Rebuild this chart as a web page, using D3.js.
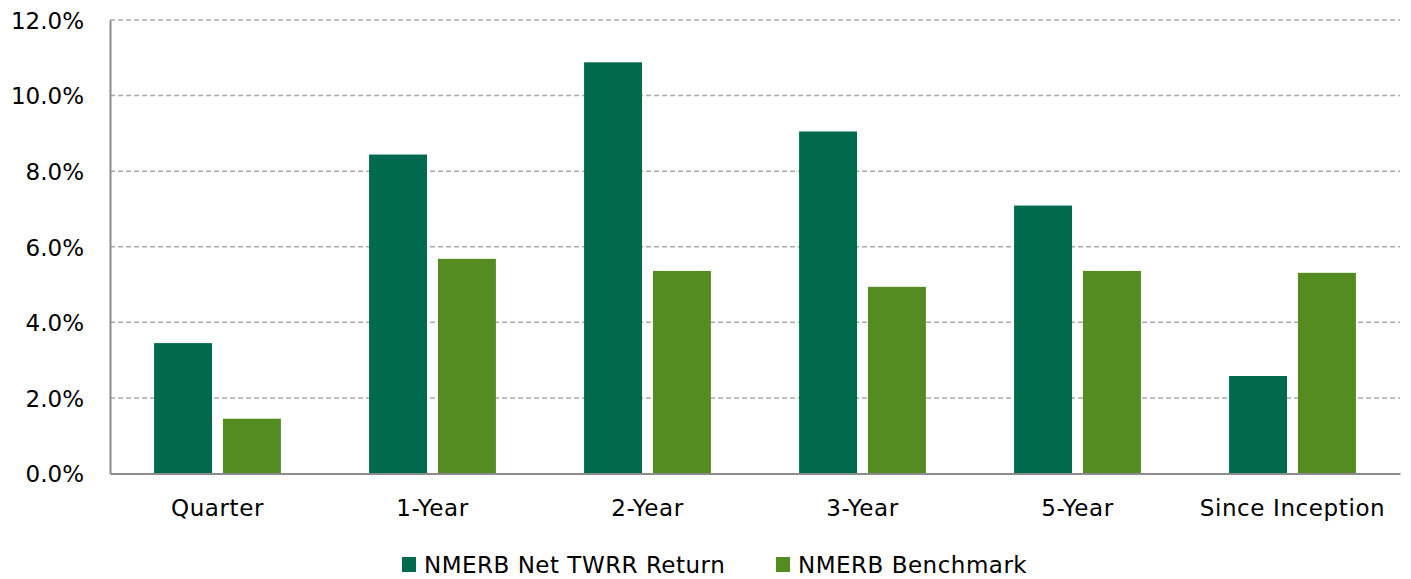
<!DOCTYPE html>
<html><head><meta charset="utf-8">
<script src="https://cdnjs.cloudflare.com/ajax/libs/d3/7.8.5/d3.min.js"></script>
<style>body{margin:0;background:#fff}svg{display:block}text{font-family:"DejaVu Sans",sans-serif;fill:#000}</style>
</head><body><svg id="c" width="1411" height="579"></svg>
<script>
const categories = ["Quarter","1-Year","2-Year","3-Year","5-Year","Since Inception"];
const seriesNames = ["NMERB Net TWRR Return","NMERB Benchmark"];
const netReturn = [3.45, 8.44, 10.88, 9.05, 7.09, 2.58];
const benchmark = [1.45, 5.68, 5.36, 4.94, 5.36, 5.31];
const yTicks = [0,2,4,6,8,10,12];
const colors = ["#006A4E","#548C22"];

const svg = d3.select("#c");
const m = {l:110, r:1400, t:20, b:473.5};
const x = d3.scaleBand().domain(categories).range([m.l, m.r]).paddingInner(0).paddingOuter(0);
const x1 = d3.scaleBand().domain(seriesNames).range([0, x.bandwidth()]).paddingInner(0.159).paddingOuter(0.64);
const y = d3.scaleLinear().domain([0,12]).range([m.b, m.t]);

// grid
svg.append("g").selectAll("line").data(yTicks.filter(d=>d>0)).join("line")
  .attr("x1", m.l).attr("x2", m.r).attr("y1", d=>y(d)).attr("y2", d=>y(d))
  .attr("stroke","#aaaaaa").attr("stroke-width",1.5).attr("stroke-dasharray","5,3");

// y axis
const yAxis = d3.axisLeft(y).tickValues(yTicks).tickFormat(d=>d3.format(".1f")(d)+"%").tickSize(0).tickPadding(26);
const ya = svg.append("g").attr("transform",`translate(${m.l},0)`).call(yAxis);
ya.select(".domain").attr("stroke","#8c8c8c").attr("stroke-width",2);
ya.selectAll("text").style("font-size","23px").style("font-family","DejaVu Sans").attr("dy","0.36em");

const data = categories.map((c,i)=>({c, vals:[netReturn[i], benchmark[i]]}));
svg.append("g").selectAll("g").data(data).join("g")
  .attr("transform", d=>`translate(${x(d.c)},0)`)
  .selectAll("rect").data(d=>d.vals.map((v,j)=>({v, s:seriesNames[j], j})))
  .join("rect")
  .attr("x", d=>x1(d.s)).attr("width", x1.bandwidth())
  .attr("y", d=>y(d.v)).attr("height", d=>y(0)-y(d.v))
  .attr("fill", d=>colors[d.j]);

// x axis
const xAxis = d3.axisBottom(x).tickSize(0).tickPadding(26);
const xa = svg.append("g").attr("transform",`translate(0,${m.b})`).call(xAxis);
xa.select(".domain").attr("stroke","#8c8c8c").attr("stroke-width",2);
xa.selectAll("text").style("font-size","23px").style("font-family","DejaVu Sans").style("letter-spacing","0.6px");

// legend
const legX = [402, 776];
const lg = svg.append("g").selectAll("g").data(seriesNames).join("g")
  .attr("transform",(d,i)=>`translate(${legX[i]},557)`);
lg.append("rect").attr("width",14).attr("height",15).attr("fill",(d,i)=>colors[i]);
lg.append("text").attr("x",22).attr("y",16).style("font-size","23px").style("letter-spacing","0.5px").text(d=>d);
</script></body></html>
